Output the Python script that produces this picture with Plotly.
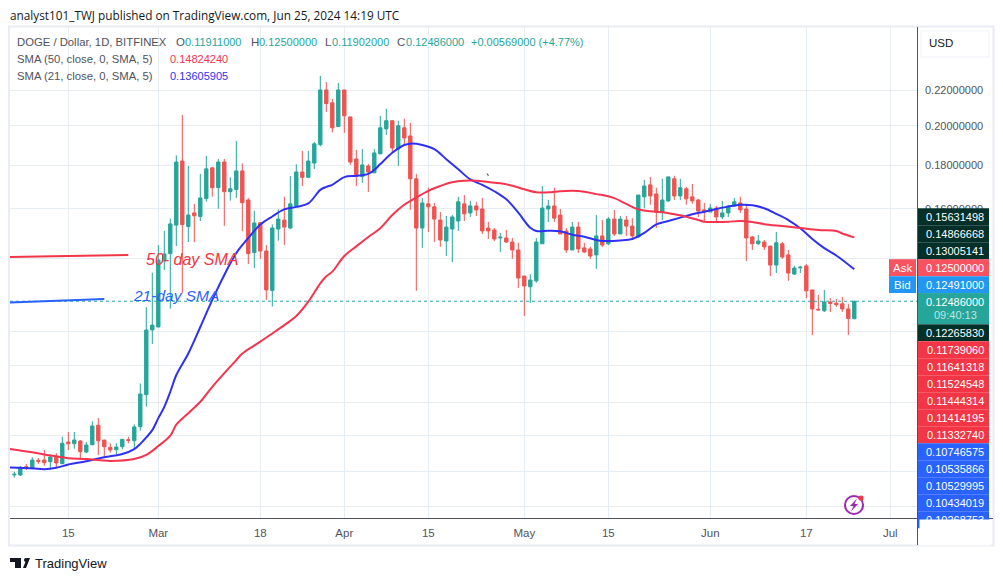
import math
import pandas as pd
import plotly.graph_objects as go

START = pd.Timestamp("2024-02-06")

opens = [.07828,.07828,.08005,.07961,.08142,.08149,.08112,.08231,.08069,.08553,
 .08515,.08575,.08326,.08491,.08947,.08598,.08431,.08378,.08445,.08605,
 .08582,.08913,.09713,.1156,.1165,.1391,.1419,.1532,.1820,.1526,
 .1583,.1568,.1645,.1787,.1694,.1815,.1676,.1686,.1772,.1639,
 .1423,.1542,.1429,.1285,.1516,.1553,.1520,.1612,.1767,.1742,
 .1810,.1902,.2203,.2128,.1997,.2203,.2049,.1830,.1745,.1796,
 .1763,.1855,.1984,.2028,.1879,.1990,.1947,.1735,.1520,.1622,
 .1609,.1553,.1468,.1516,.1549,.1622,.1583,.1613,.1600,.1520,
 .1512,.1480,.1480,.1464,.1433,.1336,.1298,.1319,.1457,.1600,
 .1613,.1574,.1508,.1433,.1524,.1441,.1437,.1414,.1488,.1457,
 .1557,.1496,.1553,.1528,.1484,.1653,.1707,.1666,.1587,.1635,
 .1735,.1657,.1689,.1653,.1639,.1596,.1587,.1604,.1566,.1583,
 .1613,.1626,.1600,.1484,.1457,.1464,.1448,.1376,.1457,.1414,
 .1343,.1366,.1373,.1287,.1222,.1217,.1246,.1242,.1240,.1223,.11911]
highs = [.07897,.08019,.08063,.08209,.08193,.08371,.08275,.08297,.08676,.08786,
 .08786,.08598,.08553,.09042,.09123,.08598,.08524,.08524,.08621,.08676,
 .08970,.10012,.1229,.1348,.1452,.1508,.1559,.1848,.2060,.1796,
 .1622,.1758,.1845,.1790,.1830,.1830,.1742,.1921,.1808,.1647,
 .1592,.1542,.1452,.1535,.1598,.1653,.1748,.1804,.1870,.1870,
 .1916,.2288,.2251,.2151,.2245,.2203,.2049,.1875,.1880,.1806,
 .1880,.2055,.2094,.2028,.2028,.2039,.2017,.1758,.1648,.1694,
 .1626,.1587,.1570,.1574,.1653,.1661,.1635,.1631,.1648,.1545,
 .1520,.1500,.1512,.1480,.1461,.1336,.1343,.1480,.1702,.1639,
 .1694,.1600,.1520,.1545,.1545,.1461,.1445,.1574,.1553,.1566,
 .1596,.1570,.1570,.1561,.1661,.1730,.1744,.1694,.1735,.1744,
 .1749,.1735,.1698,.1711,.1644,.1626,.1622,.1613,.1635,.1618,
 .1648,.1653,.1618,.1488,.1492,.1472,.1448,.1504,.1464,.1433,
 .1373,.1373,.1380,.1287,.1270,.1287,.1259,.1256,.1263,.1240,.12500]
lows = [.07771,.07807,.07933,.07948,.08063,.08026,.07948,.07991,.08063,.08371,
 .08400,.08178,.08297,.08477,.08253,.08193,.08311,.08282,.08386,.08524,
 .08400,.08817,.09404,.1113,.1165,.1358,.1224,.1448,.1276,.1464,
 .1464,.1549,.1632,.1654,.1601,.1529,.1636,.1648,.1507,.1380,
 .1365,.1399,.1253,.1231,.1469,.1452,.1515,.1607,.1702,.1738,
 .1782,.1893,.2077,.1965,.1995,.1963,.1801,.1702,.1716,.1675,
 .1763,.1855,.1952,.1860,.1796,.1900,.1596,.1284,.1441,.1504,
 .1464,.1445,.1410,.1387,.1508,.1549,.1566,.1570,.1496,.1476,
 .1468,.1425,.1461,.1399,.1294,.1200,.1243,.1312,.1457,.1545,
 .1545,.1496,.1422,.1433,.1422,.1422,.1399,.1362,.1445,.1452,
 .1488,.1496,.1488,.1476,.1480,.1604,.1618,.1520,.1553,.1631,
 .1639,.1639,.1618,.1622,.1566,.1549,.1587,.1545,.1557,.1566,
 .1609,.1583,.1391,.1433,.1452,.1433,.1336,.1347,.1399,.1319,
 .1340,.1347,.1259,.1140,.1217,.1213,.1213,.1230,.1213,.1140,.11902]
closes = [.07843,.07991,.07970,.08149,.08120,.08091,.08215,.08084,.08524,.08515,
 .08598,.08333,.08484,.08930,.08582,.08445,.08371,.08438,.08614,.08591,
 .08906,.09731,.11556,.1171,.1395,.1418,.1537,.1815,.1534,.1574,
 .1571,.1648,.1782,.1694,.1815,.1676,.1689,.1772,.1627,.1419,
 .1541,.1429,.1287,.1520,.1557,.1524,.1622,.1767,.1742,.1820,
 .1906,.2203,.2124,.1990,.2203,.2055,.1815,.1747,.1801,.1767,
 .1860,.1990,.2028,.1885,.2001,.1936,.1735,.1520,.1626,.1609,
 .1557,.1472,.1524,.1566,.1631,.1579,.1613,.1596,.1508,.1508,
 .1476,.1483,.1464,.1433,.1329,.1301,.1322,.1464,.1604,.1613,
 .1561,.1496,.1433,.1524,.1437,.1425,.1410,.1488,.1452,.1557,
 .1496,.1557,.1528,.1488,.1661,.1702,.1657,.1587,.1639,.1744,
 .1657,.1694,.1644,.1635,.1591,.1587,.1604,.1566,.1583,.1613,
 .1631,.1596,.1480,.1457,.1468,.1445,.1376,.1461,.1406,.1347,
 .1365,.1368,.1284,.1223,.1220,.1246,.1241,.1237,.1223,.11917,.12486]

sma21_days = [-1,3,5,7,9,12,15,18,20,21,22,23,24,25,26,27,29,31,33,35,37,39,41,43,45,47,49,51,52,
 53,55,57,59,60,61,63,65,66,68,70,72,74,76,78,80,82,84,86,87,89,91,93,95,97,
 98,101,103,105,107,109,111,113,115,117,119,121,123,125,127,129,131,133,135,137,140]
sma21_vals = [.0799,.0797,.0795,.0798,.0805,.0812,.0821,.0828,.0839,.0851,.0866,.0883,.0912,.0940,.0979,.1024,.1085,.1165,.1253,.1340,.1421,.1480,.1534,.1568,.1598,.1609,.1624,.1684,.1698,
 .1707,.1743,.1749,.1758,.1777,.1805,.1861,.1900,.1907,.1900,.1879,.1829,.1780,.1732,.1707,.1678,.1642,.1584,.1521,.1508,.1509,.1507,.1493,.1485,.1472,
 .1468,.1470,.1476,.1500,.1535,.1549,.1563,.1577,.1588,.1600,.1610,.1618,.1616,.1603,.1579,.1553,.1519,.1476,.1440,.1412,.13606]

sma50_days = [-1,3,6,9,12,16,20,22,24,26,27,29,31,33,35,37,38,41,43,45,47,49,51,52,
 53,55,57,59,61,63,65,67,69,71,73,75,77,79,81,83,85,87,89,91,93,95,97,
 98,100,102,104,106,108,110,112,114,115,117,119,121,123,125,128,131,134,137,138,140]
sma50_vals = [.0840,.0832,.0825,.0819,.0817,.0813,.0817,.0826,.0846,.0870,.0896,.0924,.0953,.0992,.1029,.1066,.1085,.1120,.1145,.1171,.1200,.1247,.1310,.1335,
 .1352,.1410,.1447,.1484,.1519,.1574,.1618,.1650,.1680,.1702,.1719,.1726,.1726,.1720,.1714,.1703,.1687,.1673,.1673,.1678,.1680,.1676,.1665,
 .1661,.1647,.1622,.1598,.1590,.1586,.1577,.1567,.1553,.1546,.1545,.1546,.1549,.1545,.1536,.1528,.1520,.1512,.1508,.1498,.14824]

drawn50_days, drawn50_vals = [-1, 19], [.1406, .1414]
drawn21_days, drawn21_vals = [-1, 15], [.1244, .1256]

tick_dates = ["2024-02-15","2024-03-01","2024-03-18","2024-04-01","2024-04-15","2024-05-01",
              "2024-05-15","2024-06-01","2024-06-17","2024-07-01"]
tick_names = ["15","Mar","18","Apr","15","May","15","Jun","17","Jul"]
price_ticks = [.22,.20,.18,.16,.14,.115,.105,.095,.087,.079,.072]

DARK, RED, BLUE = "#04302a", "#f23645", "#2962ff"
tag_labels = ["0.15631498","0.14866668","0.13005141","0.12500000","0.12491000","0.12486000",
              "0.12265830","0.11739060","0.11641318","0.11524548","0.11444314","0.11414195","0.11332740",
              "0.10746575","0.10535866","0.10529995","0.10434019","0.10268753"]
tag_colors = [DARK,DARK,DARK,"#f7525f","#2196f3","#26a69a",DARK,RED,RED,RED,RED,RED,RED,BLUE,BLUE,BLUE,BLUE,BLUE]
tag_centers = [216.7,233.7,250.7,267.7,284.7,301.7,332.7,349.7,366.7,383.7,400.7,417.7,434.7,451.7,468.7,485.7,502.7,519.7]

W, H = 1003, 581
L, R, T, B = 10, 917, 27, 518
def X(p): return (p - L) / (R - L)
def Y(p): return (B - p) / (B - T)
def day(n): return START + pd.Timedelta(days=n)

dates = [day(i) for i in range(len(opens))]
x_range = [day(-0.717), day(150.45)]
FONT = "Liberation Sans"

fig = go.Figure()
fig.add_trace(go.Scatter(x=x_range, y=[closes[-1]]*2, mode="lines", hoverinfo="skip",
                         line=dict(color="#26a69a", width=1, dash="dot")))
fig.add_trace(go.Candlestick(x=dates, open=opens, high=highs, low=lows, close=closes,
    whiskerwidth=0,
    increasing=dict(line=dict(color="#26a69a", width=1), fillcolor="#26a69a"),
    decreasing=dict(line=dict(color="#f05350", width=1), fillcolor="#f05350")))
fig.add_trace(go.Scatter(x=[day(d) for d in sma21_days], y=sma21_vals, mode="lines",
                         line=dict(color="#3030f5", width=2, shape="spline", smoothing=1)))
fig.add_trace(go.Scatter(x=[day(d) for d in sma50_days], y=sma50_vals, mode="lines",
                         line=dict(color="#f5344f", width=2, shape="spline", smoothing=1)))
fig.add_trace(go.Scatter(x=[day(d) for d in drawn50_days], y=drawn50_vals, mode="lines",
                         line=dict(color="#f23645", width=2)))
fig.add_trace(go.Scatter(x=[day(d) for d in drawn21_days], y=drawn21_vals, mode="lines",
                         line=dict(color="#2962ff", width=2)))

shapes = []
def rect(x0, y0, x1, y1, fill=None, line=None, lw=0, layer="above"):
    shapes.append(dict(type="rect", xref="paper", yref="paper", x0=X(x0), x1=X(x1), y0=Y(y0), y1=Y(y1),
                       fillcolor=fill, line=dict(color=line, width=lw), layer=layer))
def seg(x0, y0, x1, y1, color, lw=1):
    shapes.append(dict(type="line", xref="paper", yref="paper", x0=X(x0), x1=X(x1), y0=Y(y0), y1=Y(y1),
                       line=dict(color=color, width=lw), layer="above"))
def path(d, fill=None, line=None, lw=0):
    shapes.append(dict(type="path", xref="paper", yref="paper", path=d, fillcolor=fill,
                       line=dict(color=line, width=lw), layer="above"))
def P(points):
    return "M" + " L".join(f"{X(a):.5f},{Y(b):.5f}" for a, b in points) + " Z"
def circle(cx, cy, r, fill=None, line=None, lw=0):
    shapes.append(dict(type="circle", xref="paper", yref="paper", x0=X(cx-r), x1=X(cx+r), y0=Y(cy-r), y1=Y(cy+r),
                       fillcolor=fill, line=dict(color=line, width=lw), layer="above"))

# frame and separators
rect(9, 26.5, 993.5, 545.5, None, "#e9ecf2", 2)
seg(917.5, 27, 917.5, 545, "#50535e", 1)
seg(10, 518.5, 993, 518.5, "#50535e", 1)
# USD button
rect(921, 31, 989, 57, "#ffffff", "#f0f3fa", 1)
# price tags
for c, col in zip(tag_centers, tag_colors):
    rect(918, c - 8.5, 989, c + 8.5, col, None, 0)
rect(918, 293.2, 989, 324, "#26a69a", None, 0)
rect(889, 259.2, 916, 276, "#f7525f", None, 0)
rect(889, 276.2, 916, 293, "#2196f3", None, 0)
# event icon
circle(854, 505, 9, None, "#9c27b0", 2)
path(P([(857,498.5),(850,506),(853.5,506),(851,511.5),(858,504),(854.5,504)]), "#9c27b0")
circle(861, 498, 2.6, "#f23645")
# logo
path(P([(10,558),(21,558),(21,568),(15,568),(15,562),(10,562)]), "#131722")
circle(26, 560, 2, "#131722")
path(P([(23,568),(27,558),(30,558),(26,568)]), "#131722")
# tiny stray drawing mark on the chart
path(P([(486.5,173),(488,174),(489,176),(487.5,175.5)]), "#444444")

anns = []
def text(x, y, s, size=12, color="#131722", anchor="left", font=FONT):
    anns.append(dict(xref="paper", yref="paper", x=X(x), y=Y(y), text=s, showarrow=False, xanchor=anchor,
                     yanchor="middle", font=dict(family=font, size=size, color=color), borderpad=0))

text(9, 15, "analyst101_TWJ published on TradingView.com, Jun 25, 2024 14:19 UTC", 11.8, "#131722", font="Open Sans")
G = "#26a69a"
TXT = "#50535e"
text(16, 42, "DOGE / Dollar, 1D, BITFINEX", 11.3, TXT)
text(175, 42, "O", 11.5, TXT); text(184, 42, "0.11911000", 11, G)
text(250, 42, "H", 11.5, TXT); text(258, 42, "0.12500000", 11, G)
text(324, 42, "L", 11.5, TXT); text(331, 42, "0.11902000", 11, G)
text(396, 42, "C", 11.5, TXT); text(405, 42, "0.12486000", 11, G)
text(470, 42, "+0.00569000 (+4.77%)", 11, G)
text(16, 59, "SMA (50, close, 0, SMA, 5)", 11.3, TXT); text(169, 59, "0.14824240", 11, "#f5344f")
text(16, 76, "SMA (21, close, 0, SMA, 5)", 11.3, TXT); text(169, 76, "0.13605905", 11, "#3030f5")
text(192, 259, "<i>50- day SMA</i>", 16, "#f23645", "center")
text(176, 296, "<i>21-day SMA</i>", 15.5, "#2962ff", "center")
text(941, 43, "USD", 11.5, "#131722", "center")
for s, c in zip(tag_labels, tag_centers):
    text(955, c, s, 11, "#ffffff", "center")
text(955, 315.3, "09:40:13", 11, "#bfe5e1", "center")
text(902.5, 267.7, "Ask", 11.5, "#ffffff", "center")
text(902.5, 284.7, "Bid", 11.5, "#ffffff", "center")
# the stacked tags are cut off by the time scale
anns.append(dict(xref="paper", yref="paper", x=X(918.5), y=Y(519), xanchor="left", yanchor="top", width=70, height=25,
                 text=" ", showarrow=False, bgcolor="#ffffff", borderpad=0))
text(34, 563, "TradingView", 13, "#131722")

fig.update_layout(
    width=W, height=H, autosize=False, showlegend=False,
    margin=dict(l=L, r=W-R, t=T, b=H-B, pad=0),
    paper_bgcolor="#ffffff", plot_bgcolor="#ffffff",
    boxgap=0.2,
    shapes=shapes, annotations=anns,
    xaxis=dict(type="date", range=x_range, rangeslider=dict(visible=False), tickmode="array",
               tickvals=tick_dates, ticktext=tick_names, showgrid=True, gridcolor="#e6edf3", gridwidth=1,
               zeroline=False, ticks="", showline=False, ticklabelstandoff=6,
               tickfont=dict(family=FONT, size=11.5, color=TXT)),
    yaxis=dict(type="log", side="right", range=[math.log10(.06973), math.log10(.2609)], tickmode="array",
               tickvals=price_ticks, ticktext=[f"{v:.8f}" for v in price_ticks], showgrid=True,
               gridcolor="#e6edf3", gridwidth=1, zeroline=False, ticks="", showline=False,
               ticklabelstandoff=7, tickfont=dict(family=FONT, size=11, color=TXT)),
)
fig.write_html("out.html", config=dict(displayModeBar=False),
               post_script="document.body.style.margin='0';")
